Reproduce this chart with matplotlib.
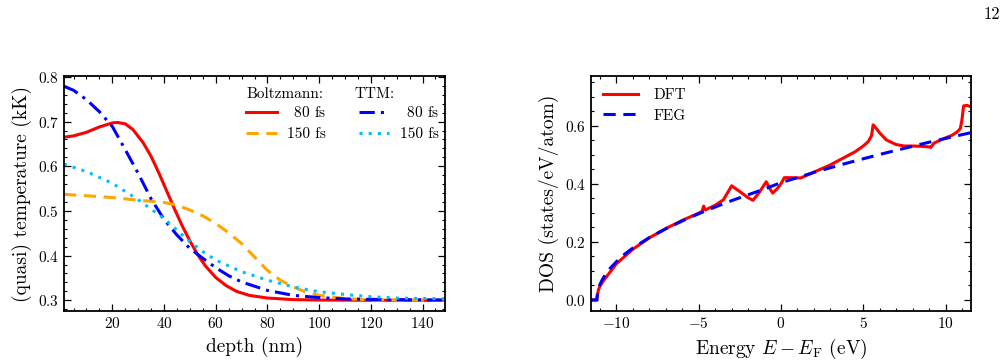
import numpy as np
import matplotlib
matplotlib.use("Agg")
import matplotlib.pyplot as plt
from matplotlib.ticker import MultipleLocator

plt.rcParams['font.family'] = ['cmr10', 'DejaVu Serif']
plt.rcParams['mathtext.fontset'] = 'cm'
plt.rcParams['axes.formatter.use_mathtext'] = True
plt.rcParams['axes.unicode_minus'] = True

# left panel: temperature profiles vs depth (nm)
depth_b80 = [1.3, 5, 10, 15, 20, 22, 25, 28, 32, 35, 38, 41, 44, 47, 50, 53, 56, 60, 64, 68, 73, 80, 90, 100, 120, 148.7]
temp_b80 = [0.665, 0.668, 0.676, 0.688, 0.697, 0.698, 0.695, 0.682, 0.652, 0.622, 0.585, 0.545, 0.505, 0.467, 0.433, 0.402, 0.377, 0.351, 0.333, 0.320, 0.311, 0.305, 0.3015, 0.3005, 0.300, 0.300]

depth_b150 = [1.3, 10, 20, 30, 40, 45, 50, 55, 60, 65, 70, 75, 80, 85, 90, 95, 100, 110, 120, 148.7]
temp_b150 = [0.537, 0.534, 0.530, 0.524, 0.519, 0.513, 0.502, 0.489, 0.472, 0.451, 0.427, 0.397, 0.367, 0.345, 0.330, 0.318, 0.311, 0.304, 0.301, 0.300]

depth_t80 = [1.3, 5, 10, 15, 20, 25, 30, 35, 40, 45, 50, 55, 60, 65, 70, 80, 90, 100, 110, 120, 148.7]
temp_t80 = [0.779, 0.770, 0.749, 0.722, 0.689, 0.637, 0.584, 0.527, 0.481, 0.446, 0.416, 0.394, 0.373, 0.355, 0.341, 0.322, 0.311, 0.306, 0.303, 0.302, 0.3005]

depth_t150 = [1.3, 10, 20, 30, 40, 50, 55, 60, 70, 80, 90, 100, 110, 120, 130, 140, 148.7]
temp_t150 = [0.605, 0.588, 0.562, 0.525, 0.483, 0.431, 0.409, 0.390, 0.364, 0.345, 0.330, 0.319, 0.313, 0.308, 0.305, 0.304, 0.3035]

# right panel: density of states vs energy (eV)
e_dft = [-11.55, -11.2, -11.1, -11.0, -10.8, -10.5, -10.0, -9.0, -8.0, -7.0, -6.0, -5.0, -4.8, -4.7, -4.6, -4.0,
         -3.5, -3.0, -2.5, -2.0, -1.7, -1.3, -0.9, -0.7, -0.5, -0.2, 0.0, 0.2, 0.6, 1.2, 2.0, 3.0, 4.0, 4.5,
         5.0, 5.3, 5.5, 5.6, 5.8, 6.0, 6.4, 7.0, 7.5, 8.0, 8.5, 9.0, 9.1, 9.3, 9.6, 10.0, 10.4, 10.7, 10.9,
         11.0, 11.1, 11.3, 11.55]
dos_dft = [0.0, 0.0, 0.035, 0.048, 0.066, 0.088, 0.125, 0.175, 0.214, 0.246, 0.274, 0.299, 0.305, 0.323, 0.310, 0.326,
           0.345, 0.393, 0.373, 0.352, 0.343, 0.372, 0.407, 0.385, 0.368, 0.385, 0.400, 0.421, 0.421, 0.420, 0.440, 0.465, 0.495, 0.510,
           0.530, 0.545, 0.565, 0.603, 0.590, 0.575, 0.551, 0.535, 0.530, 0.530, 0.529, 0.527, 0.525, 0.540, 0.548, 0.558, 0.567, 0.578, 0.590,
           0.620, 0.668, 0.670, 0.665]

e_feg = [-11.55, -11.2, -11.15, -11.1, -11.0, -10.9, -10.8, -10.6, -10.4, -10.0, -9.5, -9.0, -8.0, -7.0, -6.0, -5.0,
         -4.0, -3.0, -2.0, -1.0, 0.0, 1.0, 2.0, 3.0, 4.0, 5.0, 6.0, 7.0, 8.0, 9.0, 10.0, 11.0, 11.55]
dos_feg = [0.0, 0.0, 0.027, 0.038, 0.054, 0.066, 0.076, 0.094, 0.108, 0.132, 0.158, 0.179, 0.215, 0.245, 0.272, 0.297,
           0.320, 0.342, 0.362, 0.382, 0.404, 0.421, 0.439, 0.455, 0.471, 0.486, 0.501, 0.515, 0.529, 0.543, 0.556, 0.569, 0.576]


def style_axes(ax):
    ax.tick_params(which='both', direction='in', top=True, right=True, labelsize=11)
    ax.tick_params(which='major', length=5, width=0.9)
    ax.tick_params(which='minor', length=2.5, width=0.8)
    for sp in ax.spines.values():
        sp.set_linewidth(1.3)


fig = plt.figure(figsize=(10.08, 3.64), dpi=100)
ax1 = fig.add_axes([64 / 1008, 1 - 311 / 364, 381 / 1008, 235 / 364])
ax2 = fig.add_axes([591 / 1008, 1 - 311 / 364, 380 / 1008, 235 / 364])

lw = 2.2
ax1.plot(depth_b80, temp_b80, color='#ff0000', lw=lw, label=r'$\enspace$80 fs')
ax1.plot(depth_b150, temp_b150, color='#ffa500', lw=lw, ls=(0, (4, 2.5)), label='150 fs')
ax1.plot(depth_t80, temp_t80, color='#0000ff', lw=lw, ls=(0, (5, 2, 1, 2)), label=r'$\enspace$80 fs')
ax1.plot(depth_t150, temp_t150, color='#00bfff', lw=lw, ls=(0, (1, 2)), label='150 fs')
ax1.set_xlim(1.3, 148.7)
ax1.set_ylim(0.276, 0.802)
ax1.xaxis.set_major_locator(MultipleLocator(20))
ax1.xaxis.set_minor_locator(MultipleLocator(5))
ax1.yaxis.set_major_locator(MultipleLocator(0.1))
ax1.yaxis.set_minor_locator(MultipleLocator(0.02))
ax1.set_xlabel('depth (nm)', fontsize=14)
ax1.set_ylabel('(quasi) temperature (kK)', fontsize=14)
style_axes(ax1)
ax1.legend(ncol=2, loc='upper left', bbox_to_anchor=(0.478, 0.875), frameon=False, fontsize=11,
           handlelength=2.0, handletextpad=0.7, columnspacing=2.1, labelspacing=0.45,
           borderpad=0.0, borderaxespad=0.0)
ax1.text(0.478, 0.924, 'Boltzmann:', transform=ax1.transAxes, fontsize=11, va='center')
ax1.text(0.763, 0.924, 'TTM:', transform=ax1.transAxes, fontsize=11, va='center')

ax2.plot(e_dft, dos_dft, color='#ff0000', lw=lw, label='DFT')
ax2.plot(e_feg, dos_feg, color='#0000ff', lw=lw, ls=(0, (4, 2.5)), label='FEG')
ax2.set_xlim(-11.55, 11.55)
ax2.set_ylim(-0.038, 0.771)
ax2.xaxis.set_major_locator(MultipleLocator(5))
ax2.xaxis.set_minor_locator(MultipleLocator(1))
ax2.yaxis.set_major_locator(MultipleLocator(0.2))
ax2.yaxis.set_minor_locator(MultipleLocator(0.05))
ax2.set_xlabel(r'Energy $E - E_\mathrm{F}$ (eV)', fontsize=14)
ax2.set_ylabel('DOS (states/eV/atom)', fontsize=14)
style_axes(ax2)
ax2.legend(loc='upper left', frameon=False, fontsize=11, handlelength=2.3, handletextpad=1.0,
           labelspacing=0.45, borderaxespad=0.4)

fig.text(0.992, 0.96, '12', ha='right', va='center', fontsize=12)

fig.savefig('out.png', dpi=100)
